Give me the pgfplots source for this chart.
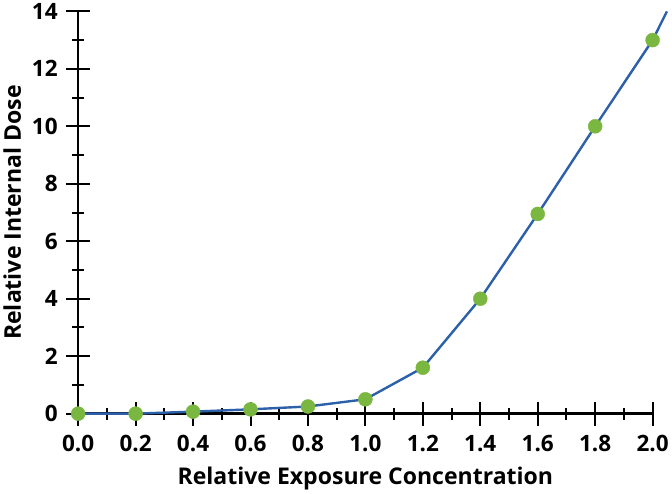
\documentclass[border=0pt]{standalone}
\usepackage{fontspec}
\setmainfont{Open Sans}
\usepackage{pgfplots}
\pgfplotsset{compat=1.18}
\definecolor{lineblue}{RGB}{44,96,168}
\definecolor{dotgreen}{RGB}{122,183,64}
\begin{document}
\begin{tikzpicture}
\begin{axis}[
  scale only axis, width=574pt, height=402pt,
  xmin=0, xmax=2, ymin=0, ymax=14,
  axis lines*=left,
  axis line style={line width=2.4pt},
  xtick={0,0.2,0.4,0.6,0.8,1.0,1.2,1.4,1.6,1.8,2.0},
  ytick={0,2,4,6,8,10,12,14},
  minor x tick num=1, minor y tick num=1,
  major tick length=24pt, minor tick length=12pt,
  every tick/.style={black, line width=2pt},
  tick align=center,
  /pgf/number format/assume math mode=true,
  tick label style={font=\bfseries\fontsize{22.5}{22.5}\selectfont},
  xticklabel style={yshift=-6pt, /pgf/number format/.cd, fixed, fixed zerofill, precision=1},
  yticklabel style={xshift=-5pt},
  label style={font=\bfseries\fontsize{23}{23}\selectfont},
  xlabel={Relative Exposure Concentration},
  xlabel style={yshift=-8pt},
  ylabel={Relative Internal Dose},
  ylabel style={yshift=4pt},
  clip=false,
]
\addplot[lineblue, line width=2.4pt] coordinates {
  (0,0) (0.2,0) (0.4,0.07) (0.6,0.15) (0.8,0.25) (1.0,0.5) (1.2,1.6)
  (1.4,4.0) (1.6,6.95) (1.8,10.0) (2.0,13.0) (2.05,14.0)};
\addplot[only marks, mark=*, mark size=7pt, mark options={draw=dotgreen, fill=dotgreen}] coordinates {
  (0,0) (0.2,0) (0.4,0.07) (0.6,0.15) (0.8,0.25) (1.0,0.5) (1.2,1.6)
  (1.4,4.0) (1.6,6.95) (1.8,10.0) (2.0,13.0)};
\end{axis}
\end{tikzpicture}
\end{document}
